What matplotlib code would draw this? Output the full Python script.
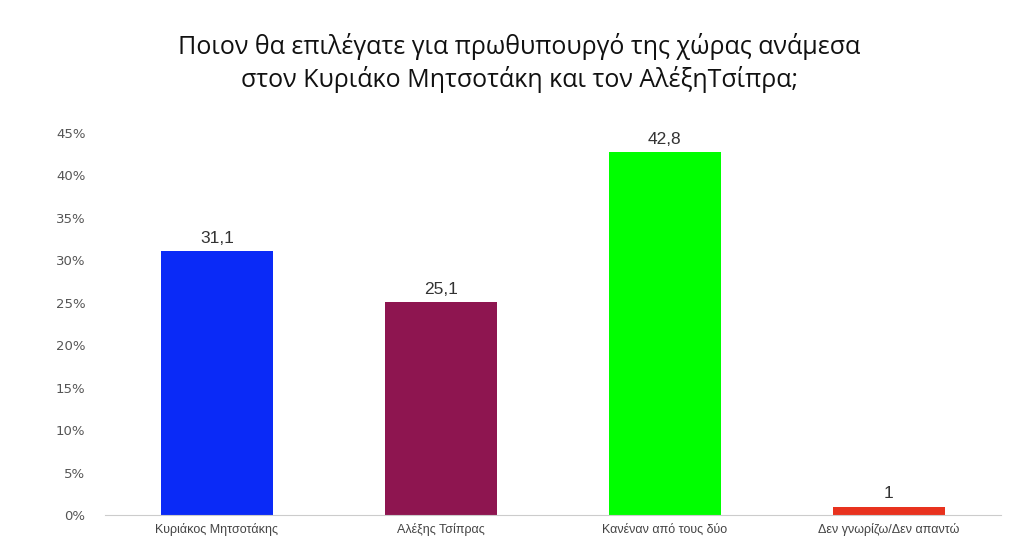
import matplotlib
matplotlib.use("Agg")
import matplotlib.pyplot as plt
from matplotlib.ticker import FuncFormatter

categories = ["Κυριάκος Μητσοτάκης", "Αλέξης Τσίπρας", "Κανέναν από τους δύο", "Δεν γνωρίζω/Δεν απαντώ"]
values = [31.1, 25.1, 42.8, 1]
labels = ["31,1", "25,1", "42,8", "1"]
colors = ["#0A2AF7", "#8E1550", "#00FF00", "#E8321E"]
y_ticks = [0, 5, 10, 15, 20, 25, 30, 35, 40, 45]

title = "Ποιον θα επιλέγατε για πρωθυπουργό της χώρας ανάμεσα\nστον Κυριάκο Μητσοτάκη και τον ΑλέξηΤσίπρα;"

fig = plt.figure(figsize=(10.16, 5.51), dpi=100)
ax = fig.add_axes([0.1033, 0.0653, 0.8817, 0.6933])

x = range(len(categories))
bars = ax.bar(x, values, width=0.5, color=colors)

for b, lab in zip(bars, labels):
    ax.text(b.get_x() + b.get_width() / 2, b.get_height() + 0.6, lab,
            ha="center", va="bottom", fontsize=12.5, color="#333333", family="Liberation Sans")

ax.set_xlim(-0.5, 3.5)
ax.set_ylim(0, 45)
ax.set_yticks(y_ticks)
ax.yaxis.set_major_formatter(FuncFormatter(lambda v, p: f"{int(v)}%"))
ax.set_xticks(list(x))
ax.set_xticklabels(categories, fontsize=9, color="#444444", family="Liberation Sans")

for t in ax.get_yticklabels():
    t.set_fontsize(9.5)
    t.set_color("#555555")
    t.set_family("DejaVu Sans")

ax.tick_params(axis="both", length=0)
ax.tick_params(axis="y", pad=14)
ax.tick_params(axis="x", pad=6)
for s in ["top", "right", "left"]:
    ax.spines[s].set_visible(False)
ax.spines["bottom"].set_color("#cccccc")

fig.text(0.511, 0.94, title, ha="center", va="top", fontsize=18,
         color="#111111", family="Open Sans", linespacing=1.3)

fig.savefig("out.png", dpi=100, facecolor="white")
